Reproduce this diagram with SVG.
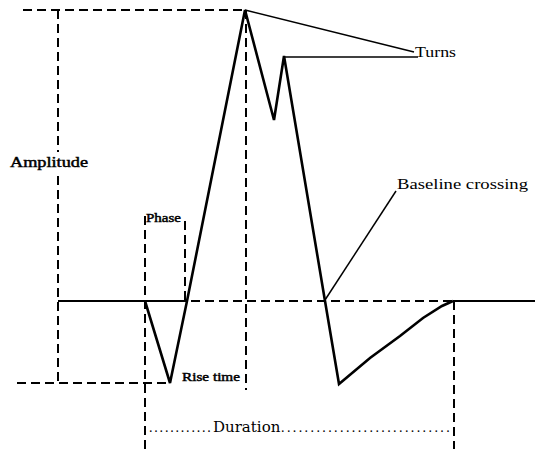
<svg xmlns="http://www.w3.org/2000/svg" width="535" height="449" viewBox="0 0 535 449">
<style>
.dash{fill:none;stroke:#000;stroke-width:2;stroke-dasharray:9 5}
.solid{fill:none;stroke:#000;stroke-width:2}
.wave{fill:none;stroke:#000;stroke-width:2.6;stroke-linejoin:miter}
.lead{fill:none;stroke:#000;stroke-width:1.5}
text{font-family:"Liberation Serif","DejaVu Serif",serif;fill:#000}
.b{stroke:#000;stroke-width:0.45}
</style>
<rect width="535" height="449" fill="#fff"/>
<g id="connectors">
<line class="dash" x1="23" y1="10" x2="245" y2="10"/>
<line class="dash" x1="58" y1="10" x2="58" y2="152"/>
<line class="dash" x1="58" y1="176" x2="58" y2="383"/>
<line class="dash" x1="17" y1="383" x2="170" y2="383"/>
<line class="solid" x1="58" y1="301" x2="187" y2="301"/>
<line class="dash" x1="191" y1="301" x2="453" y2="301"/>
<line class="solid" x1="453" y1="301" x2="535" y2="301"/>
<line class="dash" x1="145" y1="216" x2="145" y2="449"/>
<line class="dash" x1="185" y1="221" x2="185" y2="301"/>
<line class="dash" x1="246" y1="10" x2="246" y2="390"/>
<line class="dash" x1="454" y1="301" x2="454" y2="449"/>
<line class="lead" x1="245" y1="10" x2="414" y2="52"/>
<line class="lead" x1="284" y1="57" x2="418" y2="57"/>
<line class="lead" x1="325" y1="300" x2="396" y2="191"/>
</g>
<g id="waveform">
<polyline class="wave" points="145,301 170,383 187,301 245,10 274,120 284,56 325,301 339,384 370,358 400,336 423,318 442,306 453,301"/>
</g>
<g id="amplitude"><text class="b" x="10" y="167" font-size="14" textLength="78" lengthAdjust="spacingAndGlyphs">Amplitude</text></g>
<g id="phase"><text class="b" x="146" y="222" font-size="12" textLength="35" lengthAdjust="spacingAndGlyphs">Phase</text></g>
<g id="risetime"><text class="b" x="182" y="381" font-size="12" textLength="58" lengthAdjust="spacingAndGlyphs">Rise time</text></g>
<g id="turns"><text x="415" y="57" font-size="14" textLength="41" lengthAdjust="spacingAndGlyphs">Turns</text></g>
<g id="baseline"><text x="397" y="189" font-size="15" textLength="131" lengthAdjust="spacingAndGlyphs">Baseline crossing</text></g>
<g id="duration"><text y="432" font-size="14"><tspan x="149" letter-spacing="1.8">............</tspan><tspan x="213" font-family="'DejaVu Serif',serif" font-size="15">Duration</tspan><tspan x="281" letter-spacing="2.4">.............................</tspan></text></g>
</svg>
